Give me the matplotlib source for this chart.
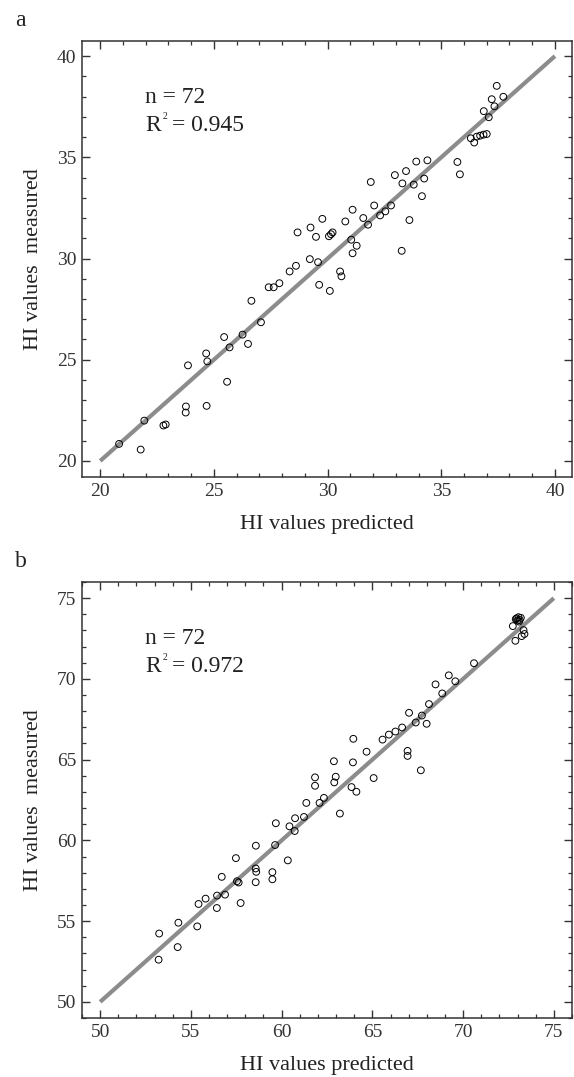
import numpy as np
import matplotlib.pyplot as plt
from matplotlib.ticker import MultipleLocator

plt.rcParams['font.family'] = ['Liberation Serif', 'DejaVu Serif']

# ---------- panel a data ----------
pred_a = [37.44, 37.73, 37.22, 37.34, 36.87, 37.09,
          36.30, 36.45, 36.56, 36.71, 36.86, 37.00,
          35.71, 35.82, 33.90, 34.39, 33.45, 32.96, 34.25, 33.29, 33.79, 34.15,
          31.90, 33.60, 33.26, 32.79, 32.54, 32.31, 32.05, 31.57, 31.78, 31.10, 30.78,
          29.77, 29.25, 28.68, 29.49, 30.06, 30.15, 30.22,
          31.04, 31.28, 31.10, 29.22, 29.58, 28.61, 28.33, 30.55, 30.61,
          29.63, 30.10, 27.88, 27.63, 27.41,
          26.65, 27.07, 26.26, 25.45, 25.69, 26.50, 24.66, 24.71, 23.86, 25.58,
          23.77, 23.76, 24.68, 22.78, 22.88, 21.94, 20.83, 21.78]
meas_a = [38.53, 37.99, 37.87, 37.52, 37.28, 36.98,
          35.94, 35.73, 36.02, 36.07, 36.12, 36.15,
          34.77, 34.16, 34.79, 34.85, 34.32, 34.12, 33.95, 33.71, 33.65, 33.08,
          33.78, 31.90, 30.38, 32.62, 32.33, 32.13, 32.62, 32.00, 31.67, 32.41, 31.83,
          31.96, 31.53, 31.29, 31.07, 31.10, 31.20, 31.29,
          30.93, 30.63, 30.26, 29.97, 29.82, 29.64, 29.36, 29.36, 29.12,
          28.70, 28.40, 28.78, 28.58, 28.58,
          27.91, 26.85, 26.24, 26.12, 25.61, 25.78, 25.31, 24.92, 24.72, 23.91,
          22.69, 22.39, 22.72, 21.75, 21.80, 21.99, 20.84, 20.56]

# ---------- panel b data ----------
pred_b = [72.95, 73.05, 73.12, 73.00, 73.18, 72.90, 73.08,
          72.74, 73.33, 73.38, 73.23, 72.88,
          70.60, 69.21, 69.57, 68.48, 68.85, 68.12,
          67.02, 67.73, 67.39, 67.99, 66.64, 66.27, 65.91, 65.56,
          63.95, 64.68, 66.94, 66.94, 62.88, 63.93, 67.67,
          61.84, 61.84, 62.98, 62.90, 65.07, 63.85, 64.12, 62.33,
          62.09, 61.36, 63.21, 61.23, 60.74, 60.43, 60.72, 59.68,
          58.58, 59.64, 57.48, 60.34, 58.57, 58.60, 59.49, 59.49, 58.57,
          57.54, 57.63, 56.70, 56.44, 56.88, 57.74, 55.81, 55.42, 56.43,
          54.31, 55.35, 53.25, 54.27, 53.22]
meas_b = [73.75, 73.82, 73.65, 73.62, 73.78, 73.70, 73.55,
          73.27, 73.02, 72.78, 72.65, 72.36,
          70.97, 70.22, 69.85, 69.66, 69.10, 68.44,
          67.90, 67.73, 67.30, 67.22, 66.99, 66.74, 66.55, 66.24,
          66.29, 65.49, 65.54, 65.23, 64.90, 64.83, 64.34,
          63.90, 63.38, 63.94, 63.59, 63.86, 63.30, 63.01, 62.63,
          62.32, 62.32, 61.66, 61.45, 61.37, 60.87, 60.58, 61.06,
          59.67, 59.71, 58.90, 58.76, 58.26, 58.05, 58.03, 57.59, 57.41,
          57.47, 57.39, 57.74, 56.58, 56.64, 56.12, 56.39, 56.06, 55.81,
          54.90, 54.67, 54.23, 53.39, 52.61]

panels = [
    dict(pred=pred_a, meas=meas_a, lim=(19.2, 40.75), line=(20, 40),
         ticks=[20, 25, 30, 35, 40], r2='0.945', letter='a',
         rect=[0.1429, 0.557, 0.8536, 0.405]),
    dict(pred=pred_b, meas=meas_b, lim=(49.0, 76.0), line=(50, 75),
         ticks=[50, 55, 60, 65, 70, 75], r2='0.972', letter='b',
         rect=[0.1429, 0.0548, 0.8536, 0.4048]),
]

fig = plt.figure(figsize=(5.74, 10.77), dpi=100)

for p in panels:
    ax = fig.add_axes(p['rect'])
    lo, hi = p['line']
    ax.plot([lo, hi], [lo, hi], color='#8c8c8c', lw=3.0, solid_capstyle='butt', zorder=1)
    ax.scatter(p['pred'], p['meas'], s=24, facecolors='none', edgecolors='black',
               linewidths=0.7, zorder=2)
    ax.set_xlim(p['lim'])
    ax.set_ylim(p['lim'])
    ax.set_xticks(p['ticks'])
    ax.set_yticks(p['ticks'])
    ax.xaxis.set_minor_locator(MultipleLocator(1))
    ax.yaxis.set_minor_locator(MultipleLocator(1))
    ax.tick_params(which='both', direction='in', top=True, right=True,
                   color='#333333', labelcolor='#333333', labelsize=14, pad=4)
    ax.tick_params(which='major', length=5.5, width=1.0)
    ax.tick_params(which='minor', length=2.7, width=0.9)
    for s in ax.spines.values():
        s.set_color('#333333')
        s.set_linewidth(1.1)
    ax.set_xlabel('HI values predicted', fontsize=16, color='#222222', labelpad=11)
    ax.set_ylabel('HI values  measured', fontsize=16, color='#222222', labelpad=10)

    # n and R² annotation (small raised 2 like the original)
    tx, ty = 0.129, 0.857
    ax.text(tx, ty, 'n = 72', transform=ax.transAxes, fontsize=17, color='#222222')
    ty2 = ty - 0.063
    ax.text(tx, ty2, 'R', transform=ax.transAxes, fontsize=17, color='#222222')
    ax.annotate('2', xy=(tx, ty2), xycoords='axes fraction', xytext=(12.4, 8.5),
                textcoords='offset points', fontsize=7, color='#222222')
    ax.annotate('= ' + p['r2'], xy=(tx, ty2), xycoords='axes fraction', xytext=(19.5, 0),
                textcoords='offset points', fontsize=17, color='#222222')

    ax.text(-0.1375, 1.034, p['letter'], transform=ax.transAxes, fontsize=17,
            color='#222222', va='baseline')

plt.savefig('out.png', dpi=100)
